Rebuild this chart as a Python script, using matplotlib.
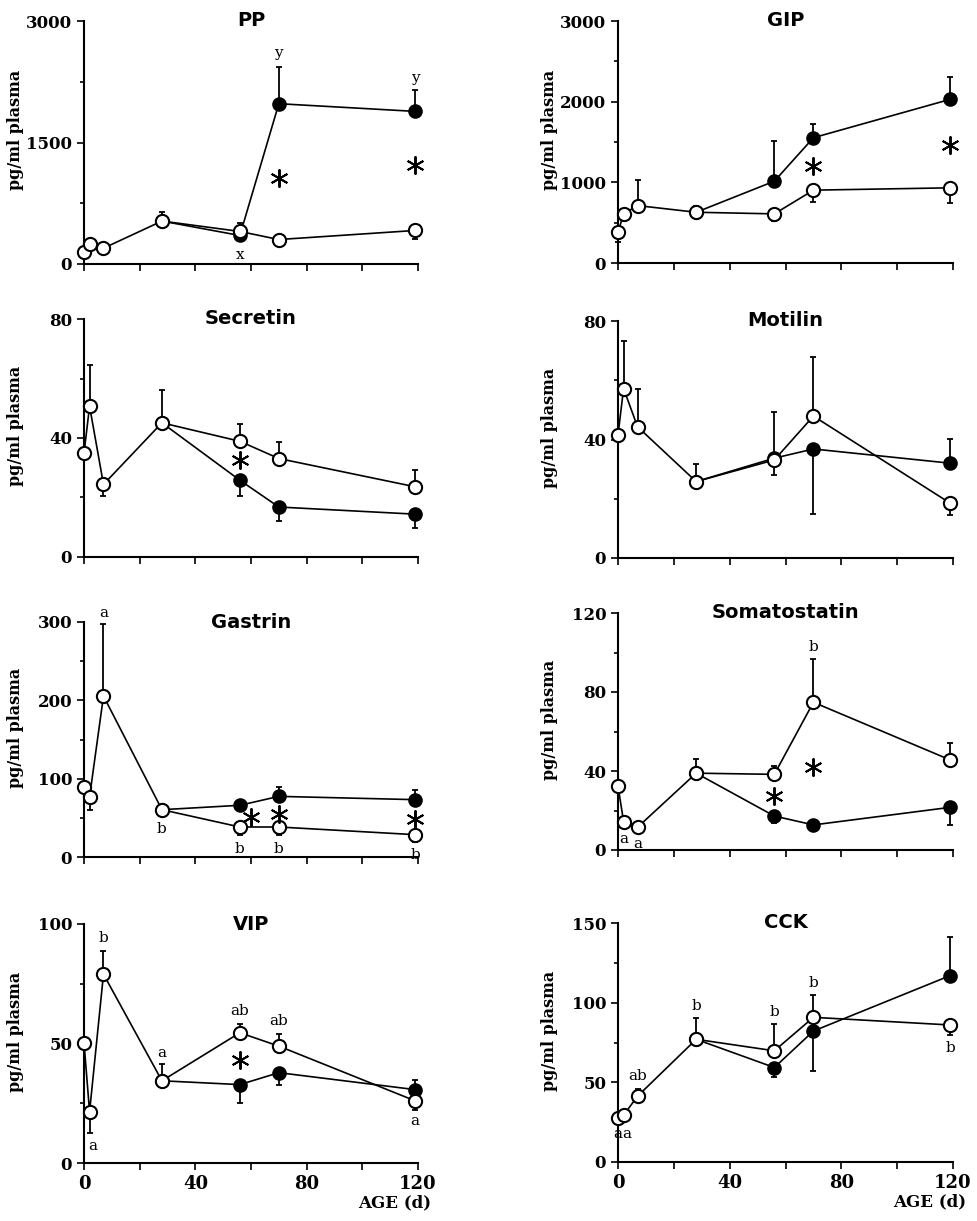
import numpy as np
import matplotlib.pyplot as plt

# sampling ages (d); the second group only splits off after weaning at 28 d
ages = [0, 2, 7, 28, 56, 70, 119]
ages_late = [28, 56, 70, 119]

# values; errors: + drawn upward, - drawn downward
pp_open = [145, 248, 195, 530, 402, 302, 414]
pp_open_err = [0, 0, 0, 110, 100, 0, -110]
pp_filled = [530, 352, 1979, 1884]
pp_filled_err = [0, 0, 450, 260]

gip_open = [381, 609, 712, 629, 609, 903, 932]
gip_open_err = [-120, 0, 320, 75, -90, -145, -190]
gip_filled = [629, 1014, 1553, 2029]
gip_filled_err = [0, 500, 165, 280]

sec_open = [34.8, 50.7, 24.4, 45.1, 38.9, 33.1, 23.6]
sec_open_err = [0, 14, -4, 11, 5.7, 5.4, 5.6]
sec_filled = [45.1, 25.8, 16.8, 14.4]
sec_filled_err = [0, -5.4, -4.7, -4.5]

mot_open = [41.5, 57.2, 44.3, 25.8, 33.1, 47.9, 18.5]
mot_open_err = [0, 16, 12.7, 6, -5, 19.8, -4]
mot_filled = [25.8, 33.7, 36.8, 32.0]
mot_filled_err = [0, 15.5, -22, 8.3]

gas_open = [89.4, 76.6, 205.5, 60.4, 38.3, 38.3, 28.5]
gas_open_err = [0, -16, 92, 0, -10, -10, -9]
gas_filled = [60.4, 66, 77.4, 73.2]
gas_filled_err = [0, 6, 12, 12.8]

som_open = [32.4, 14.4, 11.5, 38.9, 38.3, 74.8, 45.6]
som_open_err = [0, 0, 0, 7, 4, 22, 8.4]
som_filled = [38.9, 17.2, 12.7, 21.6]
som_filled_err = [0, -3.7, 0, -9]

vip_open = [50.4, 21.4, 79.0, 34.4, 54.5, 48.9, 26.0]
vip_open_err = [0, -8.8, 9.8, 7, 3.6, 5, -3.7]
vip_filled = [34.4, 32.8, 37.8, 30.7]
vip_filled_err = [0, -7.9, -5.3, 4.2]

cck_open = [27.9, 29.4, 41.3, 77.0, 69.8, 90.8, 86.0]
cck_open_err = [0, 0, 4.7, 13.6, 16.6, 14, -6.3]
cck_filled = [77.0, 59.3, 82.2, 117.0]
cck_filled_err = [0, -5.8, -25, 24]

# letters (x, y, text) and significance stars (x, y)
pp_letters = [(56, 110, 'x'), (70, 2600, 'y'), (119, 2300, 'y')]
pp_stars = [(70, 1056), (119, 1221)]
gip_letters = []
gip_stars = [(70, 1200), (119, 1461)]
sec_letters = []
sec_stars = [(56, 32.5)]
mot_letters = []
mot_stars = []
gas_letters = [(7, 311, 'a'), (28, 36, 'b'), (56, 10.6, 'b'), (70, 10.6, 'b'), (119, 2, 'b')]
gas_stars = [(60, 51), (70, 55), (119, 49)]
som_letters = [(2, 5.4, 'a'), (7, 3, 'a'), (70, 103, 'b')]
som_stars = [(56, 27.4), (70, 42.2)]
vip_letters = [(3, 7, 'a'), (7, 94, 'b'), (28, 46.2, 'a'), (56, 63.7, 'ab'),
               (70, 59.5, 'ab'), (119, 17.6, 'a')]
vip_stars = [(56, 43)]
cck_letters = [(0, 17.8, 'a'), (3, 17.8, 'a'), (7, 54, 'ab'), (28, 98, 'b'),
               (56, 94, 'b'), (70, 112.6, 'b'), (119, 71.7, 'b')]
cck_stars = []

panels = [
    dict(title='PP', o=pp_open, oe=pp_open_err, f=pp_filled, fe=pp_filled_err,
         ymax=3000, ticks=[0, 1500, 3000], minor=750, letters=pp_letters, stars=pp_stars,
         box=(84, 21, 334, 243)),
    dict(title='GIP', o=gip_open, oe=gip_open_err, f=gip_filled, fe=gip_filled_err,
         ymax=3000, ticks=[0, 1000, 2000, 3000], minor=500, letters=gip_letters, stars=gip_stars,
         box=(618, 21, 335, 242)),
    dict(title='Secretin', o=sec_open, oe=sec_open_err, f=sec_filled, fe=sec_filled_err,
         ymax=80, ticks=[0, 40, 80], minor=20, letters=sec_letters, stars=sec_stars,
         box=(84, 319, 334, 238)),
    dict(title='Motilin', o=mot_open, oe=mot_open_err, f=mot_filled, fe=mot_filled_err,
         ymax=80, ticks=[0, 40, 80], minor=20, letters=mot_letters, stars=mot_stars,
         box=(618, 321, 335, 237)),
    dict(title='Gastrin', o=gas_open, oe=gas_open_err, f=gas_filled, fe=gas_filled_err,
         ymax=300, ticks=[0, 100, 200, 300], minor=50, letters=gas_letters, stars=gas_stars,
         box=(84, 622, 334, 235)),
    dict(title='Somatostatin', o=som_open, oe=som_open_err, f=som_filled, fe=som_filled_err,
         ymax=120, ticks=[0, 40, 80, 120], minor=20, letters=som_letters, stars=som_stars,
         box=(618, 613, 335, 237)),
    dict(title='VIP', o=vip_open, oe=vip_open_err, f=vip_filled, fe=vip_filled_err,
         ymax=100, ticks=[0, 50, 100], minor=25, letters=vip_letters, stars=vip_stars,
         box=(84, 924, 334, 239)),
    dict(title='CCK', o=cck_open, oe=cck_open_err, f=cck_filled, fe=cck_filled_err,
         ymax=150, ticks=[0, 50, 100, 150], minor=25, letters=cck_letters, stars=cck_stars,
         box=(618, 923, 335, 239)),
]

W, H = 977, 1221
fig = plt.figure(figsize=(W / 100, H / 100), dpi=100)
serif = 'DejaVu Serif'


def split_err(e):
    e = np.asarray(e, dtype=float)
    return [np.clip(-e, 0, None), np.clip(e, 0, None)]


for i, p in enumerate(panels):
    x0, top, w, h = p['box']
    ax = fig.add_axes([x0 / W, 1 - (top + h) / H, w / W, h / H])

    ax.errorbar(ages_late, p['f'], yerr=split_err(p['fe']), fmt='none', ecolor='k',
                elinewidth=1.3, capsize=2.5, capthick=1.3, zorder=2)
    ax.plot(ages_late, p['f'], '-o', color='k', lw=1.2, ms=9.5, mfc='k', mec='k', zorder=3)
    ax.errorbar(ages, p['o'], yerr=split_err(p['oe']), fmt='none', ecolor='k',
                elinewidth=1.3, capsize=2.5, capthick=1.3, zorder=4)
    ax.plot(ages, p['o'], '-o', color='k', lw=1.2, ms=9.5, mfc='white', mec='k',
            mew=1.5, zorder=5)

    for lx, ly, lt in p['letters']:
        ax.text(lx, ly, lt, ha='center', va='center', fontsize=11, family=serif)
    if p['stars']:
        sx, sy = zip(*p['stars'])
        ax.plot(sx, sy, ls='none', marker=(6, 2, 0), ms=13, mew=1.4, color='k', zorder=6)

    for art in ax.lines + ax.collections + ax.texts:
        art.set_clip_on(False)

    ax.set_xlim(0, 120)
    ax.set_ylim(0, p['ymax'])
    ax.spines[['top', 'right']].set_visible(False)
    ax.spines[['left', 'bottom']].set_linewidth(1.5)
    ax.set_xticks(np.arange(0, 121, 20))
    ax.set_yticks(p['ticks'])
    ax.set_yticks(np.arange(0, p['ymax'] + 1, p['minor']), minor=True)
    ax.tick_params(axis='both', which='both', direction='out', length=5, width=1.2)
    ax.tick_params(axis='y', which='minor', length=3)
    ax.set_yticklabels([str(t) for t in p['ticks']], fontsize=12, family=serif,
                       fontweight='bold')
    if i >= 6:
        ax.set_xticklabels(['0', '', '40', '', '80', '', '120'], fontsize=13,
                           family=serif, fontweight='bold')
        ax.text(0.93, -0.165, 'AGE (d)', transform=ax.transAxes, ha='center', va='center',
                fontsize=12, family=serif, fontweight='bold')
    else:
        ax.set_xticklabels([])

    ax.set_ylabel('pg/ml plasma', fontsize=11.5, family=serif, fontweight='bold')
    ax.yaxis.set_label_coords(-0.18, 0.55)
    ax.text(0.5, 1.0, p['title'], transform=ax.transAxes, ha='center', va='center',
            fontsize=14, family='DejaVu Sans', fontweight='bold')

fig.savefig('out.png', dpi=100)
